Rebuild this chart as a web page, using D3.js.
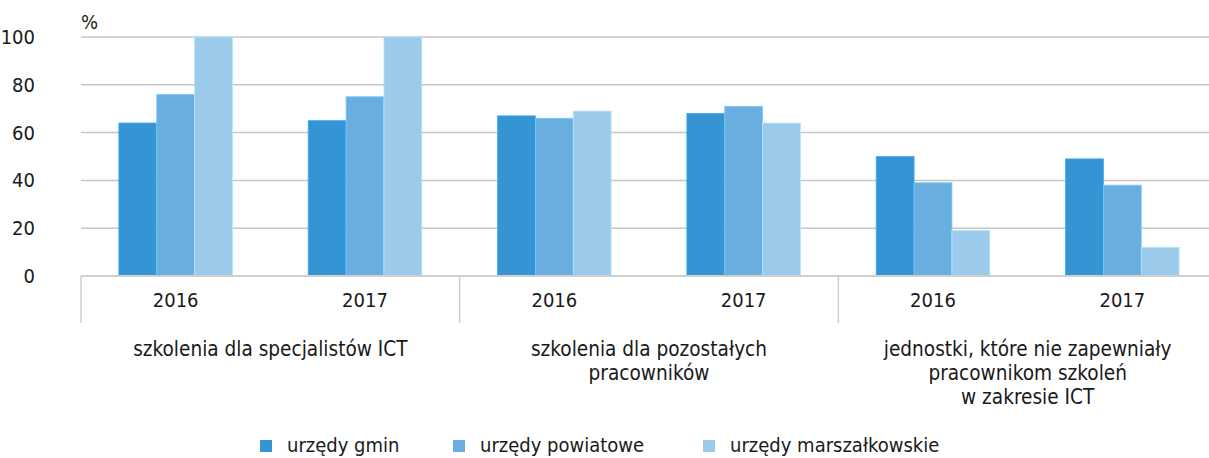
<!DOCTYPE html>
<html>
<head>
    <meta charset="utf-8">
    <title>Szkolenia ICT</title>
    <script src="https://cdn.jsdelivr.net/npm/d3@7"></script>
    <style>
        body { margin: 0; background: #fff; }
        text { font-family: "DejaVu Sans Condensed", "Liberation Sans Narrow", sans-serif; fill: #1a1a1a; }
    </style>
</head>
<body>
<svg id="chart" width="1209" height="458"></svg>
<script>
    // data
    const groups = [
        ["szkolenia dla specjalistów ICT"],
        ["szkolenia dla pozostałych", "pracowników"],
        ["jednostki, które nie zapewniały", "pracownikom szkoleń", "w zakresie ICT"]
    ];
    const years = ["2016", "2017"];
    const seriesNames = ["urzędy gmin", "urzędy powiatowe", "urzędy marszałkowskie"];
    const gmin = [64, 65, 67, 68, 50, 49];
    const powiatowe = [76, 75, 66, 71, 39, 38];
    const marszalkowskie = [100, 100, 69, 64, 19, 12];
    const yTicks = [0, 20, 40, 60, 80, 100];
    const colors = ["#3595d4", "#68afdf", "#9bcaea"];

    const svg = d3.select('#chart');
    const plotLeft = 81, plotRight = 1217, plotTop = 37, plotBottom = 276;

    // one slot per (group, year)
    const slots = [];
    groups.forEach((g, gi) => years.forEach((yr, yi) => slots.push(gi + "-" + yr)));
    const values = [gmin, powiatowe, marszalkowskie];

    const xs = d3.scaleBand().domain(slots).range([plotLeft, plotRight]);
    // bars fill 60% of each slot
    const xi = d3.scaleBand().domain(seriesNames).range([0, xs.bandwidth() * 0.6]);
    const y = d3.scaleLinear().domain([0, 100]).range([plotBottom, plotTop]);

    // gridlines
    svg.append("g")
        .selectAll("line")
        .data(yTicks.filter(t => t > 0))
        .join("line")
        .attr("x1", plotLeft).attr("x2", 1209)
        .attr("y1", d => y(d)).attr("y2", d => y(d))
        .attr("stroke", "#c6c6c6")
        .attr("stroke-width", 1.5);

    // y tick labels
    svg.append("g")
        .selectAll("text")
        .data(yTicks)
        .join("text")
        .attr("x", 35)
        .attr("y", d => y(d) + 7)
        .attr("text-anchor", "end")
        .style("font-size", "20px")
        .text(d => d);

    svg.append("text")
        .attr("x", 81).attr("y", 29)
        .style("font-size", "20px")
        .text("%");

    // bars
    const barG = svg.append("g");
    seriesNames.forEach((s, si) => {
        barG.selectAll(".bar-" + si)
            .data(values[si])
            .join("rect")
            .attr("class", "bar-" + si)
            .attr("x", (d, i) => xs(slots[i]) + xs.bandwidth() * 0.2 + xi(s))
            .attr("width", xi.bandwidth())
            .attr("y", d => y(d))
            .attr("height", d => y(0) - y(d))
            .attr("fill", colors[si])
            .attr("stroke", d3.color(colors[si]).brighter(0.4))
            .attr("stroke-width", 0.8);
    });

    // baseline and group separators
    svg.append("line")
        .attr("x1", plotLeft).attr("x2", 1209)
        .attr("y1", plotBottom).attr("y2", plotBottom)
        .attr("stroke", "#cfcfcf").attr("stroke-width", 2);

    const groupW = xs.bandwidth() * years.length;
    svg.append("g")
        .selectAll("line")
        .data(groups.map((g, gi) => gi))
        .join("line")
        .attr("x1", gi => plotLeft + gi * groupW).attr("x2", gi => plotLeft + gi * groupW)
        .attr("y1", plotBottom).attr("y2", 323)
        .attr("stroke", "#cfcfcf").attr("stroke-width", 1.5);

    // year labels
    svg.append("g")
        .selectAll("text")
        .data(slots)
        .join("text")
        .attr("x", d => xs(d) + xs.bandwidth() / 2)
        .attr("y", 307)
        .attr("text-anchor", "middle")
        .style("font-size", "20px")
        .text(d => d.split("-")[1]);

    // group labels
    groups.forEach((lines, gi) => {
        const cx = plotLeft + gi * groupW + groupW / 2;
        const t = svg.append("text")
            .attr("x", cx)
            .attr("y", 356)
            .attr("text-anchor", "middle")
            .style("font-size", "20.6px");
        lines.forEach((ln, li) => {
            t.append("tspan")
                .attr("x", cx)
                .attr("dy", li === 0 ? 0 : 24)
                .text(ln);
        });
    });

    // legend
    const legendX = [260, 453, 703];
    const legend = svg.append("g");
    seriesNames.forEach((s, si) => {
        legend.append("rect")
            .attr("x", legendX[si]).attr("y", 440)
            .attr("width", 12).attr("height", 12)
            .attr("fill", colors[si]);
        legend.append("text")
            .attr("x", legendX[si] + 27).attr("y", 452)
            .style("font-size", "20px")
            .text(s);
    });
</script>
</body>
</html>
